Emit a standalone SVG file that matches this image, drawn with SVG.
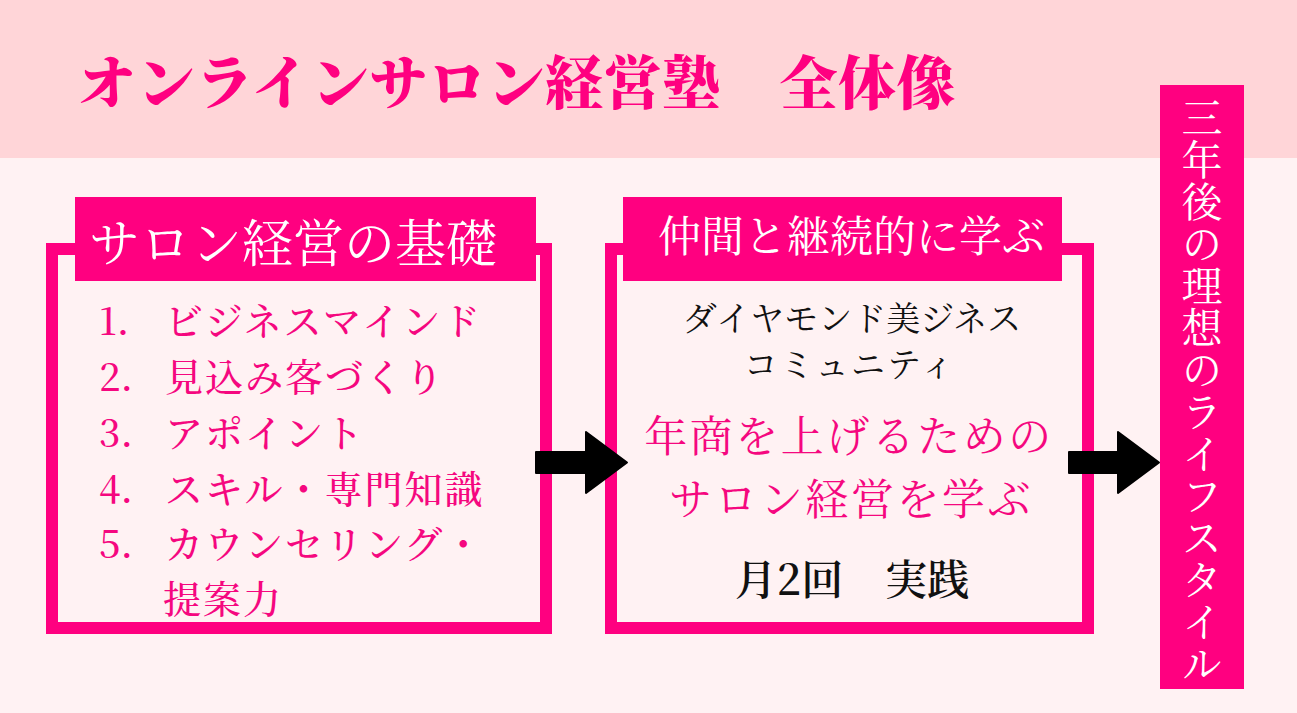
<svg xmlns="http://www.w3.org/2000/svg" width="1297" height="713" viewBox="0 0 1297 713">
<style>
.bg{fill:#FFF2F3}
.band{fill:#FFD5D8}
.box{fill:none;stroke:#FF0080;stroke-width:12}
.banner{fill:#FF0080}
.jp{font-family:"Noto Serif CJK JP","Noto Sans CJK JP",sans-serif}
.white{fill:#FFFFFF}
.pink{fill:#F5077F}
.black{fill:#111111}
.arrow{fill:#000000;stroke:#000000;stroke-width:2;stroke-linejoin:round}
</style>
<rect class="bg" x="0" y="0" width="1297" height="713"/>
<rect class="band" x="0" y="0" width="1297" height="158"/>

<g id="title">
<text class="jp" x="78" y="104" font-size="58" font-weight="900" fill="#FF0080" letter-spacing="0.6">オンラインサロン経営塾　全体像</text>
</g>

<g id="node-basics">
<rect class="box" x="52" y="249" width="494" height="379"/>
<rect class="banner" x="75" y="197" width="461" height="84"/>
<text class="jp white" x="89" y="262" font-size="51">サロン経営の基礎</text>
<g class="jp pink" font-size="38" font-weight="500">
<text y="335"><tspan x="99">1.</tspan><tspan x="165" letter-spacing="2">ビジネスマインド</tspan></text>
<text y="391"><tspan x="99">2.</tspan><tspan x="165" letter-spacing="2">見込み客づくり</tspan></text>
<text y="447"><tspan x="99">3.</tspan><tspan x="165" letter-spacing="2">アポイント</tspan></text>
<text y="503"><tspan x="99">4.</tspan><tspan x="165" letter-spacing="2">スキル・専門知識</tspan></text>
<text y="558"><tspan x="99">5.</tspan><tspan x="165" letter-spacing="2">カウンセリング・</tspan></text>
<text y="613"><tspan x="163" letter-spacing="2">提案力</tspan></text>
</g>
</g>

<g id="node-community">
<rect class="box" x="611" y="249" width="477" height="379"/>
<rect class="banner" x="623" y="197" width="439" height="84"/>
<text class="jp white" x="658" y="252" font-size="43">仲間と継続的に学ぶ</text>
<text class="jp black" x="852" y="331" font-size="34" text-anchor="middle">ダイヤモンド美ジネス</text>
<text class="jp black" x="850" y="377" font-size="34" text-anchor="middle" letter-spacing="2">コミュニティ</text>
<text class="jp pink" x="849" y="452" font-size="43" text-anchor="middle" letter-spacing="2.5">年商を上げるための</text>
<text class="jp pink" x="851" y="515" font-size="43" text-anchor="middle" letter-spacing="2.5">サロン経営を学ぶ</text>
<text class="jp black" x="852" y="595" font-size="42" font-weight="600" text-anchor="middle">月2回　実践</text>
</g>

<g id="node-goal">
<rect class="banner" x="1160" y="85" width="84" height="604"/>
<text class="jp white" x="1202" y="97" font-size="41" letter-spacing="1" style="writing-mode:vertical-rl">三年後の理想のライフスタイル</text>
</g>

<g id="connectors">
<path class="arrow" d="M536,452 H586 V432 L627,462.5 L586,493 V473 H536 Z"/>
<path class="arrow" d="M1069,452 H1118 V432 L1159,462.5 L1118,493 V473 H1069 Z"/>
</g>
</svg>
